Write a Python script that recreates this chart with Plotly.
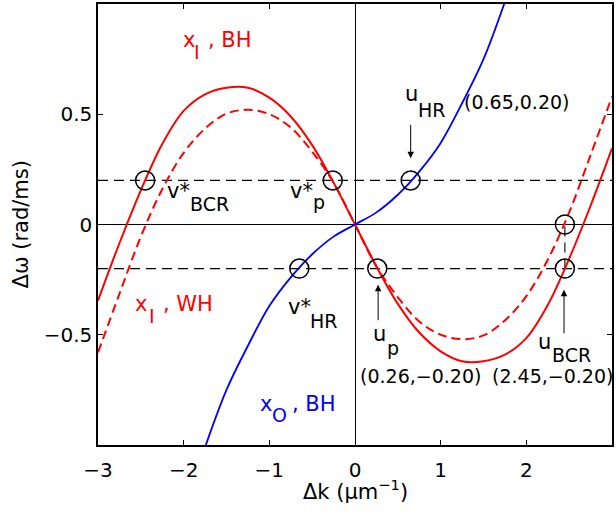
import plotly.graph_objects as go

# Wavenumber offset grid (1/um) and frequency offsets (rad/ms) of the branches
k = [-3, -2.75, -2.5, -2.25, -2, -1.75, -1.5, -1.25, -1, -0.75, -0.5, -0.25, 0,
     0.25, 0.5, 0.75, 1, 1.25, 1.5, 1.75, 2, 2.25, 2.5, 2.75, 3]
xi_bh = [-0.345, -0.085, 0.155, 0.365, 0.515, 0.59, 0.62, 0.62, 0.575, 0.49, 0.36, 0.19, 0,
         -0.19, -0.36, -0.49, -0.575, -0.62, -0.62, -0.59, -0.515, -0.365, -0.155, 0.085, 0.345]
xi_wh = [-0.58, -0.315, -0.055, 0.16, 0.325, 0.435, 0.503, 0.52, 0.50, 0.44, 0.33, 0.19, 0,
         -0.19, -0.33, -0.44, -0.50, -0.52, -0.503, -0.435, -0.325, -0.16, 0.055, 0.315, 0.58]

k_o = [-1.75, -1.5, -1.25, -1, -0.75, -0.5, -0.25, 0, 0.25, 0.5, 0.75, 1, 1.25, 1.5, 1.75]
xo_bh = [-1.01, -0.75, -0.55, -0.37, -0.24, -0.135, -0.055, 0,
         0.055, 0.135, 0.24, 0.37, 0.55, 0.75, 1.01]

# Resonance levels and the marked intersection points
levels = [0.2, -0.2]
pts_k = [-2.45, -0.26, 0.65, -0.65, 0.26, 2.45, 2.45]
pts_w = [0.2, 0.2, 0.2, -0.2, -0.2, -0.2, 0.0]

x_ticks = [-3, -2, -1, 0, 1, 2, 3]
x_ticktext = ["\u22123", "\u22122", "\u22121", "0", "1", "2", "3"]
y_ticks = [-0.5, 0, 0.5]
y_ticktext = ["\u22120.5", "0", "0.5"]
x_range = [-3, 3]
y_range = [-1, 1]

RED = "#ff0000"
BLUE = "#0000ff"
FONT = "DejaVu Sans"

fig = go.Figure()

for lv in levels:
    fig.add_trace(go.Scatter(x=x_range, y=[lv, lv], mode="lines",
                             line=dict(color="black", width=1.1, dash="10px,6px"),
                             hoverinfo="skip"))

# short dashed link between the two u_BCR circles
fig.add_trace(go.Scatter(x=[pts_k[5], pts_k[6]], y=[pts_w[5], pts_w[6]], mode="lines",
                         line=dict(color="black", width=1.1, dash="10px,6px"),
                         hoverinfo="skip"))

fig.add_trace(go.Scatter(x=k, y=xi_wh, mode="lines",
                         line=dict(color=RED, width=2, dash="9px,5px", shape="spline")))
fig.add_trace(go.Scatter(x=k, y=xi_bh, mode="lines",
                         line=dict(color=RED, width=2, shape="spline")))
fig.add_trace(go.Scatter(x=k_o, y=xo_bh, mode="lines",
                         line=dict(color=BLUE, width=1.8, shape="spline")))

fig.add_trace(go.Scatter(x=pts_k, y=pts_w, mode="markers",
                         marker=dict(symbol="circle-open", size=19, color="black",
                                     line=dict(width=1.5, color="black"))))


def label(x, y, text, size, color="black"):
    fig.add_annotation(x=x, y=y, xref="x", yref="y", text=text, showarrow=False,
                       xanchor="left", yanchor="middle",
                       font=dict(family=FONT, size=size, color=color))


def arrow(x, y, dy):
    fig.add_annotation(x=x, y=y, xref="x", yref="y", ax=0, ay=dy, text="",
                       showarrow=True, arrowhead=2, arrowsize=1.3, arrowwidth=1,
                       arrowcolor="black", standoff=0)


MAIN = 21
SUB = 19
NUM = 19

# branch names
label(-2.03, 0.839, "x", MAIN, RED)
label(-1.90, 0.781, "I", SUB, RED)
label(-1.735, 0.839, ", BH", MAIN, RED)

label(-2.59, -0.361, "x", MAIN, RED)
label(-2.43, -0.415, "I", SUB, RED)
label(-2.264, -0.361, ", WH", MAIN, RED)

label(-1.13, -0.814, "x", MAIN, BLUE)
label(-0.99, -0.866, "O", SUB, BLUE)
label(-0.76, -0.814, ", BH", MAIN, BLUE)

# starred points
label(-2.217, 0.153, "v*", MAIN)
label(-1.949, 0.091, "BCR", SUB)
label(-0.782, 0.153, "v*", MAIN)
label(-0.51, 0.100, "p", SUB)
label(-0.805, -0.376, "v*", MAIN)
label(-0.548, -0.437, "HR", SUB)

# unstarred points with coordinates
label(0.56, 0.59, "u", MAIN)
label(0.712, 0.52, "HR", SUB)
label(1.249, 0.557, "(0.65,0.20)", NUM)
arrow(0.65, 0.30, -35)

label(0.187, -0.496, "u", MAIN)
label(0.35, -0.559, "p", SUB)
label(0.035, -0.689, "(0.26,\u22120.20)", NUM)
arrow(0.27, -0.273, 37)

label(2.112, -0.534, "u", MAIN)
label(2.275, -0.591, "BCR", SUB)
label(1.575, -0.689, "(2.45,\u22120.20)", NUM)
arrow(2.44, -0.296, 45)

# axis titles
fig.add_annotation(x=0.5, y=-0.102, xref="paper", yref="paper",
                   text="\u0394k (\u03bcm<sup>\u22121</sup>)", showarrow=False,
                   xanchor="center", yanchor="middle",
                   font=dict(family=FONT, size=21, color="black"))
fig.add_annotation(x=-0.15, y=0.5, xref="paper", yref="paper",
                   text="\u0394\u03c9 (rad/ms)", showarrow=False, textangle=-90,
                   xanchor="center", yanchor="middle",
                   font=dict(family=FONT, size=21, color="black"))

axis_common = dict(showline=True, linecolor="black", linewidth=1.5, mirror="ticks",
                   ticks="inside", ticklen=5, tickwidth=1, tickcolor="black",
                   showgrid=False, zeroline=True, zerolinecolor="black", zerolinewidth=1.2,
                   tickfont=dict(family=FONT, size=20, color="black"))

fig.update_xaxes(range=x_range, tickvals=x_ticks, ticktext=x_ticktext,
                 ticklabelstandoff=6, **axis_common)
fig.update_yaxes(range=y_range, tickvals=y_ticks, ticktext=y_ticktext, **axis_common)

fig.update_layout(width=616, height=519, showlegend=False,
                  margin=dict(l=98, r=4, t=2, b=74),
                  paper_bgcolor="white", plot_bgcolor="white")

fig.write_html("out.html")
